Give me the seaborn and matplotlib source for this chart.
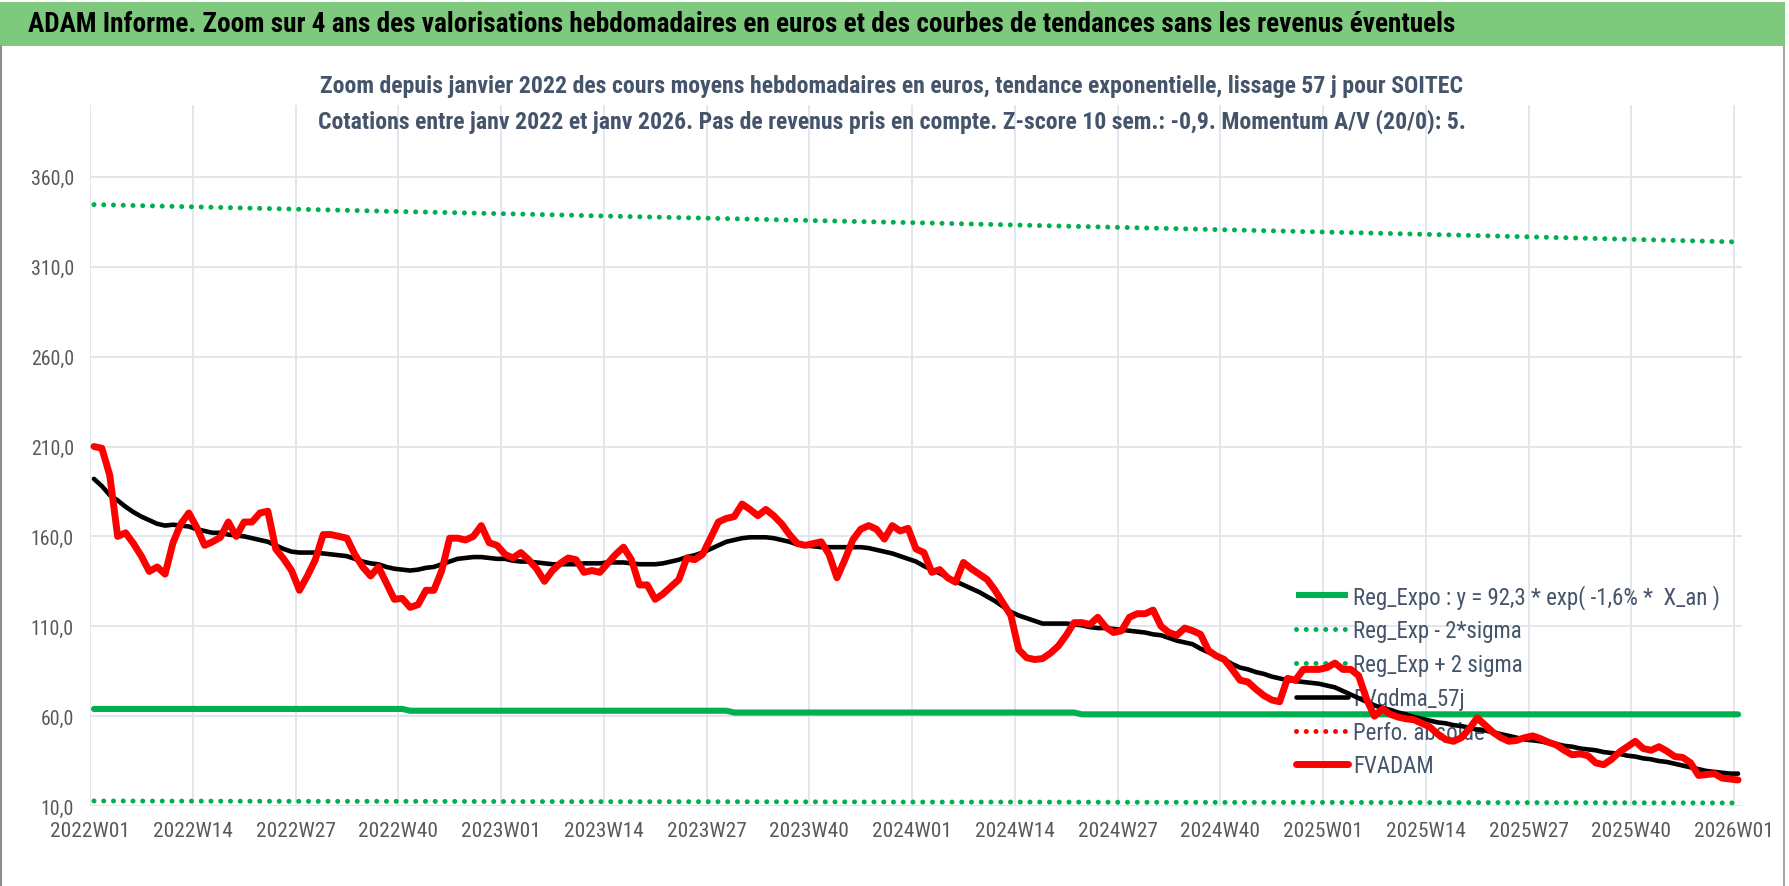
import numpy as np
import pandas as pd
import matplotlib
matplotlib.use("Agg")
import matplotlib.pyplot as plt
import seaborn as sns
from matplotlib import font_manager as fm
from matplotlib.lines import Line2D
from matplotlib.patches import Rectangle
from matplotlib.ticker import FuncFormatter

# ---------------- texts ----------------
title = ("ADAM Informe. Zoom sur 4 ans des valorisations hebdomadaires en euros "
         "et des courbes de tendances sans les revenus éventuels")
subtitle1 = ("Zoom depuis janvier 2022 des cours moyens hebdomadaires en euros, "
             "tendance exponentielle, lissage 57 j pour SOITEC")
subtitle2 = ("Cotations entre janv 2022 et janv 2026. Pas de revenus pris en compte. "
             "Z-score 10 sem.: -0,9. Momentum A/V (20/0): 5.")
legend_labels = ["Reg_Expo : y = 92,3 * exp( -1,6% *  X_an )", "Reg_Exp - 2*sigma",
                 "Reg_Exp + 2 sigma", "FVgdma_57j", "Perfo. absolue", "FVADAM"]

# ---------------- data ----------------
tick_weeks = [0, 13, 26, 39, 52, 65, 78, 91, 104, 117, 130, 143, 156, 169, 182, 195, 208]
tick_labels = ["2022W01", "2022W14", "2022W27", "2022W40", "2023W01", "2023W14", "2023W27",
               "2023W40", "2024W01", "2024W14", "2024W27", "2024W40", "2025W01", "2025W14",
               "2025W27", "2025W40", "2026W01"]

fvadam = [210, 209, 194, 160, 162, 156, 149, 140.5, 143, 139,
          156.5, 167, 173, 165, 155, 157, 159.5, 168, 160, 168,
          168, 173, 174, 153, 147.5, 141, 130, 138, 147, 161,
          161, 160, 159, 150, 143, 138, 143, 134, 125, 125.5,
          120.5, 122, 130, 130, 141, 159, 159, 158, 160, 166,
          156.5, 155, 150, 148, 151, 147, 142, 135, 141, 145,
          148, 147, 140, 141, 140, 145, 150, 154, 147, 133,
          133, 125, 128, 132, 136, 148, 147, 150, 159, 168,
          170, 171, 178, 175, 171.5, 175, 171.5, 167, 161, 156,
          155, 156, 157, 150, 137, 147, 158, 164, 166, 164,
          158.5, 166, 163, 164.5, 153, 151, 140, 141.5, 137, 134.5,
          145.5, 142, 139, 136, 130, 123, 116, 97, 92.5, 91.5,
          92, 95, 99, 105, 112, 112, 111, 115, 109.5, 106.5,
          107.5, 115, 117, 117, 119, 110, 106.5, 105, 109, 107.5,
          105.5, 96.5, 93.5, 91.5, 86, 80, 79, 75, 71.5, 69,
          68, 81, 80, 86, 86, 86, 87, 89.5, 86, 86,
          82.5, 69.5, 60, 64, 61, 59.5, 58.5, 58, 56, 54,
          50, 47, 46, 48, 53, 59, 55, 51, 48, 46,
          46.5, 48, 49, 47.5, 45.5, 44, 41, 38.5, 39, 38,
          34, 33, 36, 40, 43, 46, 42, 41, 43, 40.5,
          37.5, 37, 34, 27, 27.5, 28, 25.5, 25, 24.5]

fvgdma = [192, 188, 183, 180, 176.5, 173.5, 171, 169, 167, 166,
          166.5, 166, 165.5, 164, 163, 162, 162, 161, 160.5, 160,
          159, 158, 157, 155, 153, 151.5, 151, 151, 151, 150.5,
          150, 149.5, 149, 147.5, 146, 145, 144.5, 143, 142, 141.5,
          141, 141.5, 142.5, 143, 144.5, 146, 147.5, 148, 148.5, 148.5,
          148, 147.5, 147.5, 146.5, 146, 146, 145.5, 145, 144.5, 144.5,
          144.5, 144.5, 145, 145, 145, 145.5, 145.5, 145.5, 145, 144.5,
          144.5, 144.5, 145, 146, 147, 148.5, 149.5, 151, 153, 155,
          157, 158, 159, 159.5, 159.5, 159.5, 159, 158, 157, 155.5,
          155, 154.5, 154, 154, 154, 154, 154, 154, 153.5, 152.5,
          151.5, 150.5, 149, 147.5, 146, 143.5, 141.5, 139.5, 137, 135,
          133, 131, 129, 126.5, 124, 121, 118, 116, 114.5, 113,
          111.5, 111.5, 111.5, 111.5, 111, 110.5, 109.5, 109, 109, 108.5,
          108, 107.5, 107, 106.5, 105.5, 105, 103.5, 102, 101, 100,
          97.5, 95.5, 93.5, 91.5, 89, 87, 86, 84.5, 83.5, 82,
          81, 80, 79.5, 79, 78.5, 78, 77, 76, 74, 72,
          70, 68, 66, 64.5, 63.5, 62, 61, 59.5, 58.5, 57.5,
          56.5, 56, 55, 54.5, 53.5, 52.5, 52, 51, 50, 49,
          48, 47, 46.5, 46, 45, 44.5, 43.5, 43, 42, 41.5,
          41, 40, 39.5, 39, 38, 37.5, 36.5, 36, 35, 34.5,
          33.5, 32.5, 31.5, 30.5, 29.5, 29, 28.5, 28, 28]

sigma_plus = [344.6, 343.3, 342.0, 340.7, 339.5, 338.2, 337.0, 335.7, 334.5,
              333.2, 331.9, 330.6, 329.3, 328.0, 326.6, 325.2, 323.8]
sigma_minus = [12.8, 12.7, 12.6, 12.6, 12.5, 12.4, 12.4, 12.3, 12.2,
               12.2, 12.1, 12.0, 12.0, 11.9, 11.9, 11.8, 11.7]
regexpo_weeks = [0, 39, 40, 80, 81, 124, 125, 208]
regexpo_vals = [64, 64, 63, 63, 62, 62, 61, 61]

# ---------------- style ----------------
sns.set_theme(style="white")


def pick_font():
    names = {f.name for f in fm.fontManager.ttflist}
    for n in ["Liberation Sans Narrow", "Roboto Condensed", "Open Sans Condensed", "Arial Narrow"]:
        if n in names:
            return n, "normal"
    for f in fm.fontManager.ttflist:
        if f.name == "DejaVu Sans" and "ondensed" in f.fname:
            return "DejaVu Sans", "condensed"
    return "Open Sans", "normal"


FAM, STRETCH = pick_font()
plt.rcParams["font.family"] = [FAM, "DejaVu Sans"]
plt.rcParams["font.stretch"] = STRETCH

W, H = 1790, 887
fig = plt.figure(figsize=(W / 100, H / 100), dpi=100)
fig.patch.set_facecolor("white")
renderer = fig.canvas.get_renderer()


def fit_size(s, target_px, weight="normal", base=20.0):
    t = fig.text(0, 0, s, fontsize=base, fontweight=weight)
    w = t.get_window_extent(renderer).width
    t.remove()
    return base * target_px / w


def fx(px):
    return px / W


def fy(py):
    return 1 - py / H


# title bar
fig.add_artist(Rectangle((0, fy(47)), fx(1785), (47 - 3) / H, transform=fig.transFigure,
                         facecolor="#7FC97F", edgecolor="none", zorder=0))
ts = fit_size(title, 1427, "bold")
fig.text(fx(28), fy(25), title, fontsize=ts, fontweight="bold", color="black",
         ha="left", va="center")

# borders
fig.add_artist(Line2D([fx(1), fx(1)], [fy(47), 0], transform=fig.transFigure,
                      color="#8C8C8C", lw=1.5))
fig.add_artist(Line2D([fx(1784), fx(1784)], [fy(47), 0], transform=fig.transFigure,
                      color="#A6A6A6", lw=1.5))

# subtitles
ss = fit_size(subtitle1, 1140, "bold")
fig.text(fx(892), fy(87), subtitle1, fontsize=ss, fontweight="bold", color="#44546A",
         ha="center", va="center")
fig.text(fx(892), fy(122), subtitle2, fontsize=ss, fontweight="bold", color="#44546A",
         ha="center", va="center")

# axes
ax = fig.add_axes([fx(90), fy(807), 1652 / W, 701 / H])
ax.set_facecolor("white")

x_week = np.arange(len(fvadam)) + 0.5
df = pd.DataFrame({"x": x_week, "fvadam": fvadam, "fvgdma": fvgdma})
df_sig = pd.DataFrame({"x": np.array(tick_weeks) + 0.5, "plus": sigma_plus, "minus": sigma_minus})
df_reg = pd.DataFrame({"x": np.array(regexpo_weeks) + 0.5, "v": regexpo_vals})

GREEN = "#00B050"
dot_style = (0, (0.01, 1.94))

sns.lineplot(data=df_reg, x="x", y="v", ax=ax, color=GREEN, linewidth=4.4,
             solid_capstyle="round", legend=False, zorder=3)
sns.lineplot(data=df_sig, x="x", y="minus", ax=ax, color=GREEN, linewidth=3.6,
             linestyle=dot_style, dash_capstyle="round", legend=False, zorder=3)
sns.lineplot(data=df_sig, x="x", y="plus", ax=ax, color=GREEN, linewidth=3.6,
             linestyle=dot_style, dash_capstyle="round", legend=False, zorder=3)
sns.lineplot(data=df, x="x", y="fvgdma", ax=ax, color="black", linewidth=3.3,
             solid_capstyle="round", legend=False, zorder=3.2)
sns.lineplot(data=df, x="x", y="fvadam", ax=ax, color="#FF0000", linewidth=5.0,
             solid_capstyle="round", solid_joinstyle="round", legend=False, zorder=3.4)

ax.set_xlim(0, 209)
ax.set_ylim(10, 400)
ax.set_yticks(list(range(10, 361, 50)))
ax.yaxis.set_major_formatter(FuncFormatter(lambda v, p: f"{v:.1f}".replace(".", ",")))
ax.set_xticks(tick_weeks)
ax.set_xticklabels(tick_labels)
ax.set_xlabel("")
ax.set_ylabel("")
ax.grid(True, color="#E1E4EA", lw=1.3, zorder=0)
ax.set_axisbelow(True)
for sp in ax.spines.values():
    sp.set_visible(False)

tk = fit_size("360,0", 43)
ax.tick_params(axis="y", length=0, pad=11.5, labelsize=tk, labelcolor="#595959")
ax.tick_params(axis="x", length=0, pad=11, labelsize=tk * 1.08, labelcolor="#595959")

# legend (drawn under the series, like the original)
handles = [
    Line2D([], [], color=GREEN, lw=4.4, solid_capstyle="butt"),
    Line2D([], [], color=GREEN, lw=3.6, linestyle=dot_style, dash_capstyle="round"),
    Line2D([], [], color=GREEN, lw=3.6, linestyle=dot_style, dash_capstyle="round"),
    Line2D([], [], color="black", lw=3.3),
    Line2D([], [], color="#FF0000", lw=3.6, linestyle=dot_style, dash_capstyle="round"),
    Line2D([], [], color="#FF0000", lw=5.0),
]
lf = fit_size(legend_labels[0], 366)
lf_px = lf * 100 / 72
leg = ax.legend(handles, legend_labels, loc="center left", bbox_to_anchor=(0.730, 0.179),
                frameon=False, fontsize=lf, handlelength=52 / lf_px, handletextpad=5 / lf_px,
                labelspacing=0.47, borderpad=0, borderaxespad=0)
for t in leg.get_texts():
    t.set_color("#44546A")
leg.set_zorder(2.5)

fig.savefig("out.png", dpi=100, facecolor="white")
